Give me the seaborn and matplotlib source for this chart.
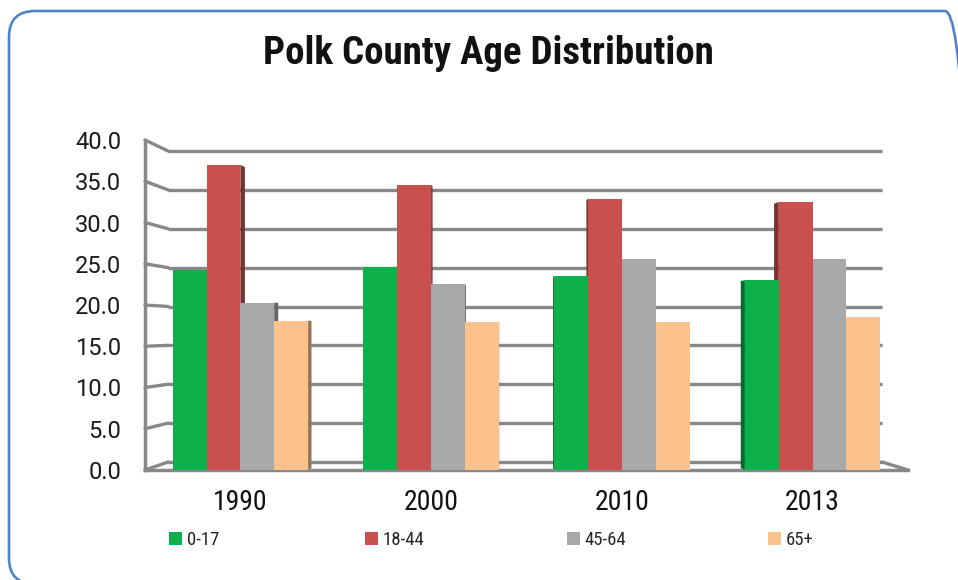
import matplotlib
matplotlib.use("Agg")
import matplotlib.pyplot as plt
import matplotlib.patches as mpatches
import matplotlib.colors as mcolors
import numpy as np
import pandas as pd
import seaborn as sns

# Share of population (%) by age group
years = ["1990", "2000", "2010", "2013"]
groups = ["0-17", "18-44", "45-64", "65+"]
age_0_17 = [24.2, 24.6, 23.5, 23.0]
age_18_44 = [37.0, 34.6, 32.9, 32.5]
age_45_64 = [20.3, 22.5, 25.6, 25.6]
age_65_up = [18.1, 18.0, 17.9, 18.5]
y_ticks = [0, 5, 10, 15, 20, 25, 30, 35, 40]

colors = ["#0DB14B", "#C9504C", "#A8A8A8", "#FBC28E"]
grid_color = "#888888"
cond = ["Roboto Condensed", "DejaVu Sans"]

df = pd.DataFrame({
    "year": years * 4,
    "group": [g for g in groups for _ in years],
    "pct": age_0_17 + age_18_44 + age_45_64 + age_65_up,
})

sns.set_theme(style="white")
plt.rcParams["font.family"] = cond

W, H = 958, 580
fig = plt.figure(figsize=(W / 100, H / 100), dpi=100)
fig.patch.set_facecolor("white")

# rounded frame around the chart (display pixels)
frame = mpatches.FancyBboxPatch((9, -4), 962, 573, transform=None,
                                boxstyle="round,pad=0,rounding_size=26",
                                facecolor="none", edgecolor="#4F83C8",
                                linewidth=1.9, zorder=0)
fig.patches.append(frame)

ax_l, ax_r, ax_t, ax_b = 145, 908, 140, 470
ax = fig.add_axes([ax_l / W, 1 - ax_b / H, (ax_r - ax_l) / W, (ax_b - ax_t) / H])
ax.set_facecolor("none")

sns.barplot(data=df, x="year", y="pct", hue="group", order=years,
            hue_order=groups, palette=colors, width=0.71, saturation=1,
            edgecolor="none", linewidth=0, legend=False, ax=ax, zorder=3)

ax.set_xlim(-0.5, 3.5)
ax.set_ylim(0, 40)

# back wall gridlines with perspective connectors to the front axis
x_back0, x_back1 = -0.379, 3.364


def back_y(v):
    return 0.97 + 0.9424 * v


for v in y_ticks:
    yb = back_y(v)
    ax.plot([x_back0, x_back1], [yb, yb], color=grid_color, lw=2.4,
            zorder=1, clip_on=False, solid_capstyle="butt")
    ax.plot([-0.5, x_back0], [v, yb], color=grid_color, lw=2.4,
            zorder=1, clip_on=False)
# right edge of the floor
ax.plot([x_back1, 3.5], [0.97, 0], color=grid_color, lw=2.4, zorder=1,
        clip_on=False)

# shaded side faces give the columns a little depth
depth = 0.25
for bar in ax.patches:
    x0, w, h = bar.get_x(), bar.get_width(), bar.get_height()
    xc = x0 + w / 2
    shift = depth * (0.121 - (xc + 0.5) * (0.257 / 4))
    edge = x0 + w if shift > 0 else x0
    top_back = h + depth * (back_y(h) - h)
    base_back = depth * back_y(0)
    rgb = np.array(mcolors.to_rgb(bar.get_facecolor())) * 0.6
    side = mpatches.Polygon([(edge, 0), (edge, h), (edge + shift, top_back),
                             (edge + shift, base_back)], closed=True,
                            facecolor=rgb, edgecolor="none", zorder=2.5)
    ax.add_patch(side)

for side in ["top", "right"]:
    ax.spines[side].set_visible(False)
for side in ["left", "bottom"]:
    ax.spines[side].set_color(grid_color)
    ax.spines[side].set_linewidth(2.5)
    ax.spines[side].set_zorder(2)

ax.set_yticks(y_ticks)
ax.set_yticklabels([f"{v:.1f}" for v in y_ticks], family=["Roboto", "DejaVu Sans"],
                   fontsize=17, color="#1a1a1a")
ax.tick_params(axis="y", direction="out", length=6, width=2, color=grid_color,
               pad=11)

ax.set_xticks(range(len(years)))
ax.set_xticklabels(years, fontsize=20, color="#111111")
ax.set_xticks(np.arange(-0.5, len(years), 1.0), minor=True)
ax.tick_params(axis="x", which="major", length=0, pad=14)
ax.tick_params(axis="x", which="minor", direction="out", length=6, width=1.6,
               color=grid_color)
ax.set_xlabel("")
ax.set_ylabel("")
ax.grid(False)

fig.text(488 / W, 1 - 53 / H, "Polk County Age Distribution", ha="center",
         va="center", fontsize=28, fontweight="bold", color="#111111")

legend_x = [169, 365, 567, 768]
for c, g, lx in zip(colors, groups, legend_x):
    fig.legend([mpatches.Patch(facecolor=c, edgecolor="none")], [g],
               loc="center left", bbox_to_anchor=(lx / W, 1 - 540 / H),
               frameon=False, fontsize=13.5, handlelength=0.7, handleheight=0.7,
               handletextpad=0.25, borderaxespad=0, borderpad=0)

fig.savefig("out.png", dpi=100, facecolor="white")
